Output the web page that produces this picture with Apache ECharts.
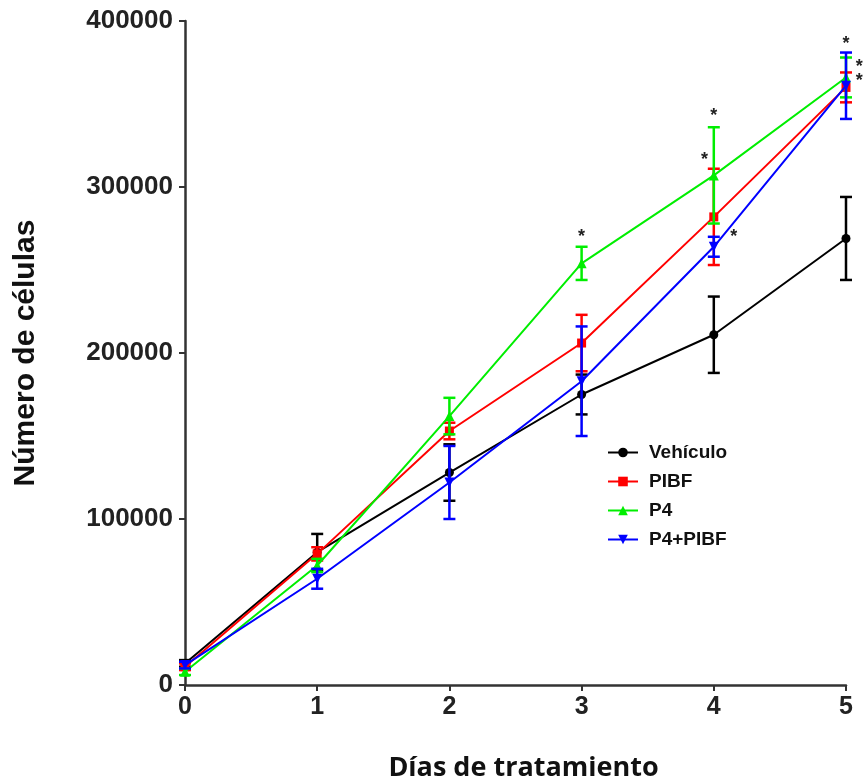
<!DOCTYPE html>
<html>
<head>
<meta charset="utf-8">
<script src="https://cdn.jsdelivr.net/npm/echarts@6/dist/echarts.min.js"></script>
<style>html,body{margin:0;padding:0;background:#fff}#c{width:865px;height:782px}</style>
</head>
<body>
<div id="c"></div>
<script>
const days = [0, 1, 2, 3, 4, 5];
const vehiculo = [13000, 80000, 128000, 175000, 211000, 269000];
const vehiculoErr = [2000, 11000, 17000, 12000, 23000, 25000];
const pibf = [11000, 79000, 153000, 206000, 282000, 360000];
const pibfErr = [2000, 4000, 5000, 17000, 29000, 9000];
const p4 = [8000, 72000, 162000, 254000, 307000, 366000];
const p4Err = [2000, 4000, 11000, 10000, 29000, 12000];
const p4pibf = [12000, 64000, 122000, 183000, 264000, 361000];
const p4pibfErr = [2000, 6000, 22000, 33000, 6000, 20000];
const sigX = [3, 4, 3.93, 4.15, 5, 5.1, 5.1];
const sigY = [270000, 343000, 316000, 270000, 386000, 372000, 364000];
const yTicks = [0, 100000, 200000, 300000, 400000];

const groups = [
  {name: 'Vehículo', vals: vehiculo, err: vehiculoErr, color: '#000000', symbol: 'circle', size: 9, rot: 0},
  {name: 'PIBF', vals: pibf, err: pibfErr, color: '#ff0000', symbol: 'rect', size: 9, rot: 0},
  {name: 'P4', vals: p4, err: p4Err, color: '#00ee00', symbol: 'triangle', size: 10, rot: 0},
  {name: 'P4+PIBF', vals: p4pibf, err: p4pibfErr, color: '#0000ff', symbol: 'triangle', size: 10, rot: 180}
];

const series = [];
groups.forEach((g, gi) => {
  series.push({
    name: g.name, type: 'line', data: days.map((d, i) => [d, g.vals[i]]),
    symbol: g.symbol, symbolSize: g.size, symbolRotate: g.rot,
    lineStyle: {color: g.color, width: 2}, itemStyle: {color: g.color},
    z: 10 + gi * 2, animation: false
  });
  series.push({
    type: 'custom', z: 11 + gi * 2, animation: false, clip: false,
    data: days.map((d, i) => [d, g.vals[i] - g.err[i], g.vals[i] + g.err[i]]),
    renderItem: function (params, api) {
      const lo = api.coord([api.value(0), api.value(1)]);
      const hi = api.coord([api.value(0), api.value(2)]);
      const w = 6;
      const st = {stroke: g.color, lineWidth: 2.5};
      return {type: 'group', children: [
        {type: 'line', shape: {x1: lo[0], y1: lo[1], x2: hi[0], y2: hi[1]}, style: st},
        {type: 'line', shape: {x1: lo[0] - w, y1: lo[1], x2: lo[0] + w, y2: lo[1]}, style: st},
        {type: 'line', shape: {x1: hi[0] - w, y1: hi[1], x2: hi[0] + w, y2: hi[1]}, style: st}
      ]};
    }
  });
});
series.push({
  type: 'custom', z: 30, animation: false, clip: false,
  data: sigX.map((x, i) => [x, sigY[i]]),
  renderItem: function (params, api) {
    const p = api.coord([api.value(0), api.value(1)]);
    return {type: 'text', x: p[0], y: p[1], style: {text: '*', fill: '#222', font: 'bold 18px "Liberation Sans", Arial', align: 'center', verticalAlign: 'middle'}};
  }
});

const chart = echarts.init(document.getElementById('c'), null, {renderer: 'canvas'});
chart.setOption({
  backgroundColor: '#fff',
  animation: false,
  grid: {left: 185, right: 19, top: 21, bottom: 97, containLabel: false, outerBoundsMode: 'none'},
  legend: {
    orient: 'vertical', left: 602, top: 438, itemWidth: 30, itemHeight: 12, itemGap: 10,
    data: groups.map(g => g.name),
    textStyle: {fontFamily: '"Liberation Sans", Arial', fontWeight: 'bold', fontSize: 19, color: '#111', lineHeight: 17.5, padding: [0, 0, 0, 6]}
  },
  xAxis: {
    type: 'value', min: 0, max: 5, interval: 1,
    name: 'Días de tratamiento', nameLocation: 'middle', nameGap: 70,
    nameTextStyle: {fontFamily: '"Open Sans", sans-serif', fontWeight: 'bold', fontSize: 27, color: '#111', padding: [0, 0, 0, 16]},
    axisLine: {onZero: false, lineStyle: {color: '#333', width: 2.5}},
    axisTick: {show: true, length: 6, lineStyle: {color: '#333', width: 2}},
    axisLabel: {fontFamily: '"Liberation Sans", Arial', fontWeight: 'bold', fontSize: 25, color: '#222', margin: 10},
    splitLine: {show: false}
  },
  yAxis: {
    type: 'value', min: 0, max: 400000, interval: 100000,
    name: 'Número de células', nameLocation: 'middle', nameGap: 144, nameRotate: 90,
    nameTextStyle: {fontFamily: '"Liberation Sans", Arial', fontWeight: 'bold', fontSize: 30, color: '#111'},
    axisLine: {show: true, lineStyle: {color: '#333', width: 2.5}},
    axisTick: {show: true, length: 6, lineStyle: {color: '#333', width: 2}},
    axisLabel: {fontFamily: '"Liberation Sans", Arial', fontWeight: 'bold', fontSize: 26, color: '#222', margin: 12,
      formatter: v => yTicks.includes(v) ? String(v) : ''},
    splitLine: {show: false}
  },
  series: series
});
</script>
</body>
</html>
